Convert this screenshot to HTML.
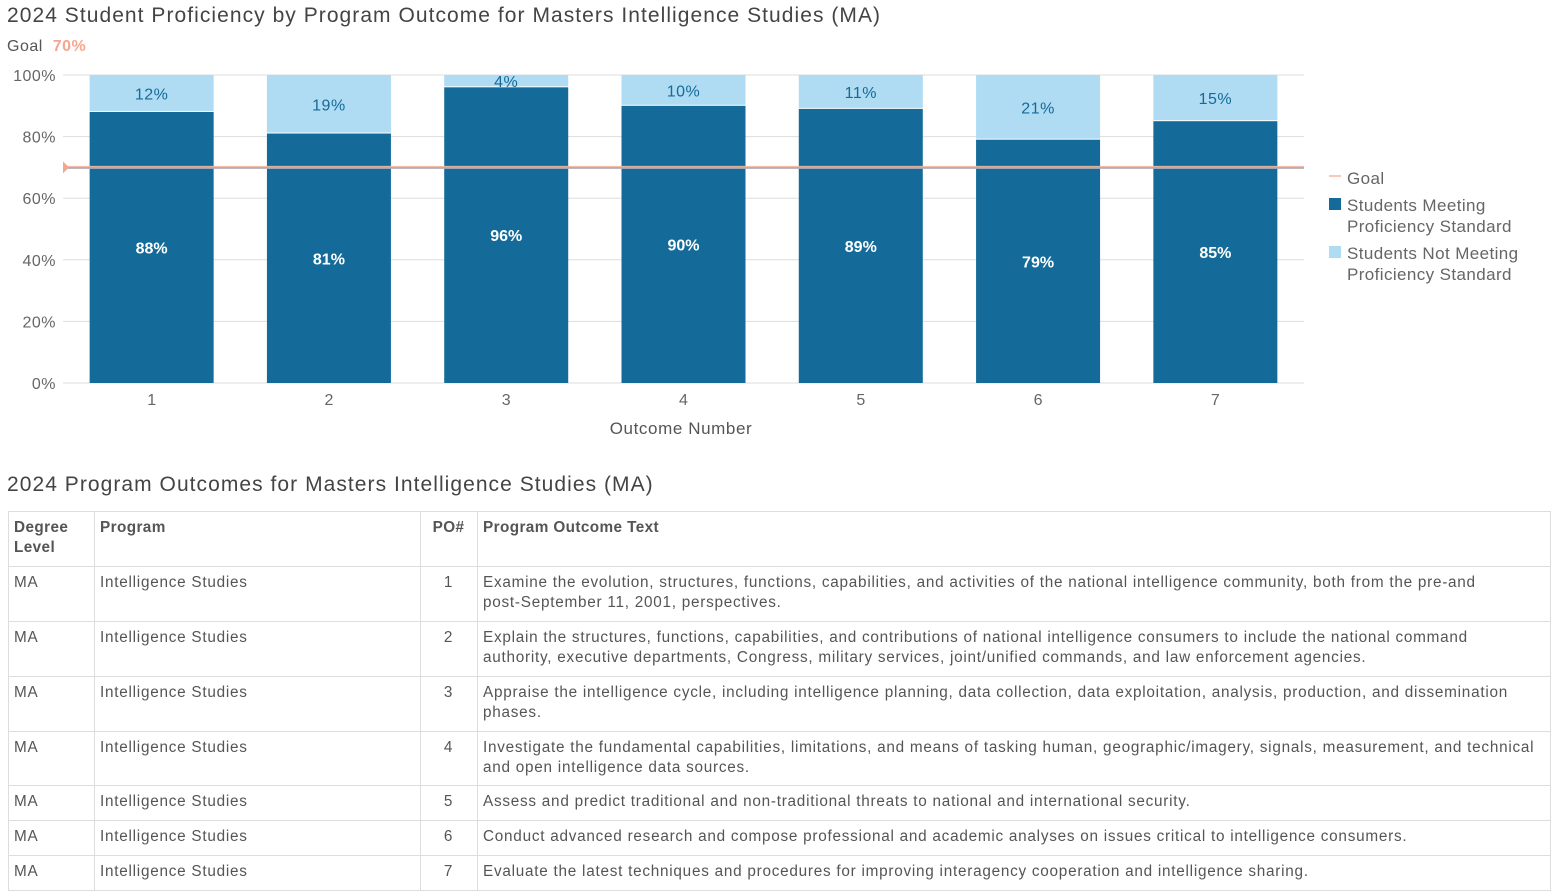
<!DOCTYPE html>
<html><head><meta charset="utf-8">
<style>
body{margin:0;width:1557px;height:896px;background:#fff;font-family:"Liberation Sans",sans-serif;color:#555;overflow:hidden;position:relative}
.title{position:absolute;left:7px;font-size:21px;color:#444;white-space:nowrap;letter-spacing:1.05px}
table{position:absolute;left:8px;top:511px;width:1543px;border-collapse:collapse;font-size:15.3px;line-height:20px;color:#555;letter-spacing:0.75px}
td,th{border:1px solid #ddd;vertical-align:top;padding:6px 6px 7px 5px;text-align:left;white-space:nowrap}
th{font-weight:bold;color:#555;letter-spacing:0.4px}
.c3{text-align:center}
</style></head><body>
<div class="title" style="top:4px">2024 Student Proficiency by Program Outcome for Masters Intelligence Studies (MA)</div>
<div style="position:absolute;left:7px;top:38px;font-size:16px;letter-spacing:0.5px">Goal <span style="color:#f7a58f;font-weight:bold;margin-left:5px">70%</span></div>
<svg id="chart" width="1557" height="450" style="position:absolute;left:0;top:0"></svg>
<div class="title" style="top:473px">2024 Program Outcomes for Masters Intelligence Studies (MA)</div>
<table>
<tr style="height:55px"><th style="width:74px">Degree<br>Level</th><th style="width:314px">Program</th><th style="width:45px" class="c3">PO#</th><th>Program Outcome Text</th></tr>
<tr style="height:55px"><td>MA</td><td>Intelligence Studies</td><td class="c3">1</td><td>Examine the evolution, structures, functions, capabilities, and activities of the national intelligence community, both from the pre-and<br>post-September 11, 2001, perspectives.</td></tr>
<tr style="height:55px"><td>MA</td><td>Intelligence Studies</td><td class="c3">2</td><td>Explain the structures, functions, capabilities, and contributions of national intelligence consumers to include the national command<br>authority, executive departments, Congress, military services, joint/unified commands, and law enforcement agencies.</td></tr>
<tr style="height:55px"><td>MA</td><td>Intelligence Studies</td><td class="c3">3</td><td>Appraise the intelligence cycle, including intelligence planning, data collection, data exploitation, analysis, production, and dissemination<br>phases.</td></tr>
<tr style="height:54px"><td>MA</td><td>Intelligence Studies</td><td class="c3">4</td><td>Investigate the fundamental capabilities, limitations, and means of tasking human, geographic/imagery, signals, measurement, and technical<br>and open intelligence data sources.</td></tr>
<tr style="height:35px"><td>MA</td><td>Intelligence Studies</td><td class="c3">5</td><td>Assess and predict traditional and non-traditional threats to national and international security.</td></tr>
<tr style="height:35px"><td>MA</td><td>Intelligence Studies</td><td class="c3">6</td><td>Conduct advanced research and compose professional and academic analyses on issues critical to intelligence consumers.</td></tr>
<tr style="height:35px"><td>MA</td><td>Intelligence Studies</td><td class="c3">7</td><td>Evaluate the latest techniques and procedures for improving interagency cooperation and intelligence sharing.</td></tr>
</table>
<script>
const categories=["1","2","3","4","5","6","7"];
const meeting=[88,81,96,90,89,79,85];
const notMeeting=[12,19,4,10,11,21,15];
const yTicks=[0,20,40,60,80,100];
const goal=70;
const NS="http://www.w3.org/2000/svg";
const svg=document.getElementById('chart');
const X0=63,X1=1304,Y0=383,Y1=75;
const band=(X1-X0)/categories.length;
const bw=124;
const y=v=>Y0-(v/100)*(Y0-Y1);
const xc=i=>X0+band*(i+0.5);
function el(t,a,txt){const e=document.createElementNS(NS,t);for(const k in a)e.setAttribute(k,a[k]);if(txt!==undefined)e.textContent=txt;svg.appendChild(e);return e;}
yTicks.forEach(t=>{
 const g=el('line',{x1:X0,x2:X1,y1:y(t),y2:y(t),stroke:'#ddd','stroke-width':1});
 
 
 const l=el('text',{x:56,y:y(t)+6,'text-anchor':'end','font-size':16,fill:'#666','letter-spacing':0.5},t+'%');
 
 
});
categories.forEach((c,i)=>{
 const x=xc(i)-bw/2;
 const b=el('rect',{x:x,y:y(meeting[i]),width:bw,height:Y0-y(meeting[i]),fill:'#146b99'});
 
 
 const b2=el('rect',{x:x,y:y(meeting[i]+notMeeting[i]),width:bw,height:y(meeting[i])-y(meeting[i]+notMeeting[i])-1,fill:'#afdbf3'});
 
 
 const t1=el('text',{x:xc(i),y:(y(meeting[i])+Y0)/2+6,'text-anchor':'middle','font-size':16,'font-weight':'bold',fill:'#fff'},meeting[i]+'%');
 
 
 const t2=el('text',{x:xc(i),y:(y(meeting[i])+y(meeting[i]+notMeeting[i]))/2+6,'text-anchor':'middle','font-size':16,fill:'#146b99','letter-spacing':0.5},notMeeting[i]+'%');
 
 
 const xl=el('text',{x:xc(i),y:405,'text-anchor':'middle','font-size':16,fill:'#666'},c);
 
 
});
const gl=el('line',{x1:X0,x2:X1,y1:y(goal)+0.5,y2:y(goal)+0.5,stroke:'#b0b0b0','stroke-width':2});


const gl2=el('line',{x1:X0,x2:X1,y1:y(goal)-1,y2:y(goal)-1,stroke:'#f7b5a5','stroke-width':1});


const gm=el('polygon',{points:`${X0},${y(goal)-6} ${X0+6},${y(goal)} ${X0},${y(goal)+6}`,fill:'#f7a58f'});


const xt=el('text',{x:681,y:434,'text-anchor':'middle','font-size':17,fill:'#555','letter-spacing':0.6},'Outcome Number');


const lg=el('line',{x1:1329,x2:1341,y1:176,y2:176,stroke:'#f7b5a5','stroke-width':1.5});


const lt=el('text',{x:1347,y:184,'font-size':17,fill:'#666','letter-spacing':0.4},'Goal');


const s1=el('rect',{x:1329,y:198,width:12,height:12,fill:'#146b99'});


const l1=el('text',{x:1347,y:211,'font-size':17,fill:'#666','letter-spacing':0.4});


l1.innerHTML='<tspan x="1347">Students Meeting</tspan><tspan x="1347" dy="21">Proficiency Standard</tspan>';
const s2=el('rect',{x:1329,y:246,width:12,height:12,fill:'#afdbf3'});


const l2=el('text',{x:1347,y:259,'font-size':17,fill:'#666','letter-spacing':0.4});


l2.innerHTML='<tspan x="1347">Students Not Meeting</tspan><tspan x="1347" dy="21">Proficiency Standard</tspan>';
</script>
</body></html>
